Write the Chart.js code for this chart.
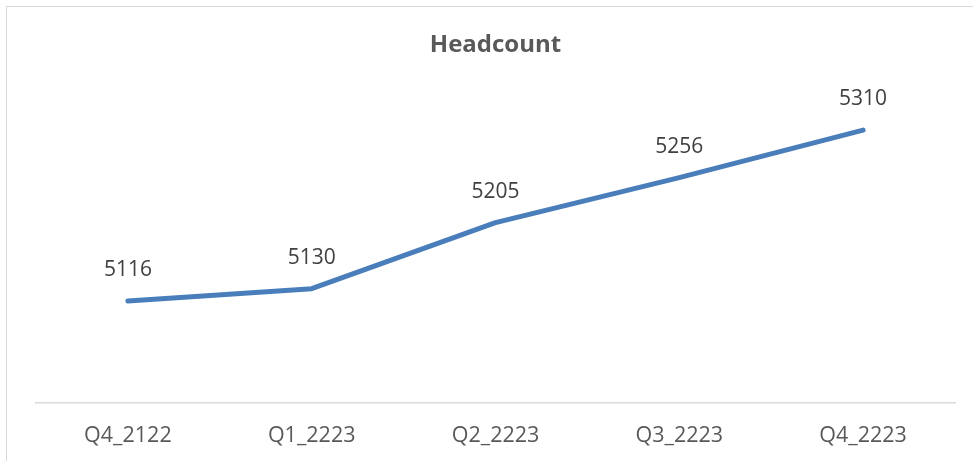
<!DOCTYPE html>
<html>
<head>
<meta charset="utf-8">
<script src="https://cdn.jsdelivr.net/npm/chart.js@4"></script>
<style>
    html, body { margin: 0; padding: 0; background: #fff; overflow: hidden; }
    #frame { position: absolute; left: 6px; top: 6px; width: 1000px; height: 1000px; border: 1.5px solid #d9d9d9; }
    #wrap { position: absolute; left: 0; top: 0; width: 973px; height: 485px; }
</style>
</head>
<body>
<div id="frame"></div>
<div id="wrap"><canvas id="line-chart"></canvas></div>
<script>
const quarters = ["Q4_2122", "Q1_2223", "Q2_2223", "Q3_2223", "Q4_2223"];
const headcount = [5116, 5130, 5205, 5256, 5310];

/*labels above points*/
const pointLabels = {
    id: "pointLabels",
    afterDatasetsDraw(chart) {
        const ctx = chart.ctx;
        const meta = chart.getDatasetMeta(0);
        ctx.save();
        ctx.font = "21px 'Open Sans'";
        ctx.fillStyle = "#404040";
        ctx.textAlign = "center";
        ctx.textBaseline = "middle";
        meta.data.forEach(function(pt, i) {
            ctx.fillText(headcount[i], pt.x, pt.y - 31);
        });
        ctx.restore();
    },
};

const lineChart = document.querySelector("#line-chart");
new Chart(lineChart, {
    type: "line",
    data: {
        labels: quarters,
        datasets: [{
            data: headcount,
            borderColor: "#4a7ebb",
            borderWidth: 5,
            borderCapStyle: "round",
            borderJoinStyle: "round",
            pointRadius: 0,
            tension: 0,
        }, ],
    },
    options: {
        responsive: true,
        maintainAspectRatio: false,
        animation: false,
        layout: {
            padding: { left: 36, right: 18, top: 0, bottom: 16 },
        },
        scales: {
            x: {
                offset: true,
                grid: { display: false, drawTicks: false },
                border: { display: true, color: "#d9d9d9", width: 1.5 },
                ticks: {
                    color: "#595959",
                    padding: 20,
                    font: { family: "'Open Sans'", size: 21.5 },
                },
            },
            y: {
                display: false,
                min: 5000,
                max: 5350,
            },
        },
        plugins: {
            legend: { display: false },
            tooltip: { enabled: false },
            title: {
                display: true,
                text: "Headcount",
                color: "#595959",
                font: { family: "'Open Sans'", size: 24, weight: "bold" },
                padding: { top: 31, bottom: 35 },
            },
        },
    },
    plugins: [pointLabels],
});
</script>
</body>
</html>
